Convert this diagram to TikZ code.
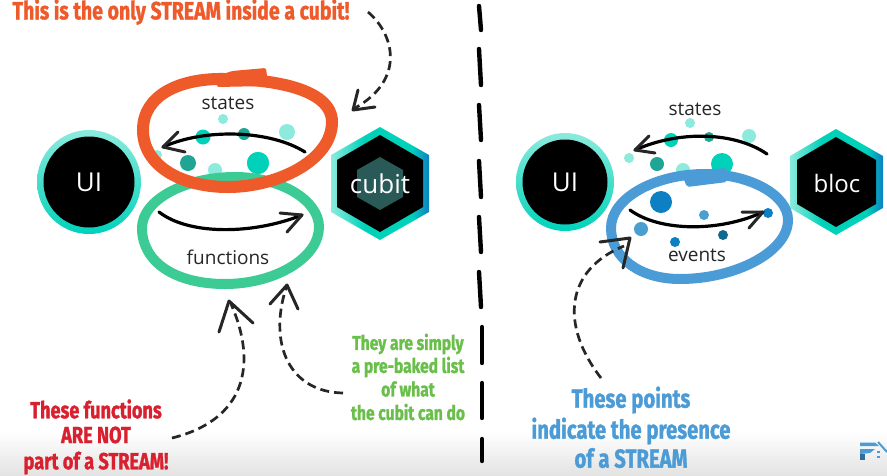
\documentclass[tikz,border=0pt]{standalone}
\usepackage{fontspec}
\usetikzlibrary{shapes.geometric}
\setmainfont{Open Sans}
\newfontfamily\disp[FakeStretch=0.78,BoldFeatures={FakeBold=1.2}]{Fira Sans}
\definecolor{orangeR}{HTML}{EF5A2B}
\definecolor{greenR}{HTML}{3CCB95}
\definecolor{blueR}{HTML}{4A9BD6}
\definecolor{redT}{HTML}{D9202F}
\definecolor{greenT}{HTML}{6ABF4B}
\definecolor{tealL}{HTML}{8CEBDD}
\definecolor{teal1}{HTML}{00D2BA}
\definecolor{tealD}{HTML}{1FA593}
\definecolor{blue1}{HTML}{0D80C4}
\definecolor{blue2}{HTML}{4A9FD0}
\definecolor{blue3}{HTML}{0F6A8F}
\definecolor{hexcore}{HTML}{2A5A57}
\pgfdeclarehorizontalshading{hexshade}{100bp}{
  color(0bp)=(tealL); color(25bp)=(tealL); color(42bp)=(teal1);
  color(66bp)=(teal1); color(75bp)=(blue1); color(100bp)=(blue1)}
\tikzset{
  x=1pt,y=-1pt,
  curve/.style={line width=3.2pt,line cap=round,line join=round,black},
  dashcurve/.style={line width=2.7pt,dash pattern=on 9pt off 5pt,black!85},
  headline/.style={line width=3pt,line cap=round,line join=round,black!85},
  ringnode/.style={circle,inner sep=0pt,shading angle=135,top color=tealL,bottom color=teal1},
  corenode/.style={circle,fill=black,text=white,inner sep=0pt,font=\fontsize{26}{28}\selectfont},
  hexlabel/.style={text=white,font=\fontsize{26}{28}\selectfont,inner sep=0pt},
  lab/.style={text=black!85,font=\fontsize{19}{21}\selectfont,inner sep=0pt},
  disptext/.style={align=center,inner sep=0pt,font=\disp\bfseries},
  dashbar/.style={line width=4.4pt,line cap=round,black},
  titletext/.style={disptext,text=orangeR,font=\disp\bfseries\fontsize{25}{28}\selectfont},
  redtext/.style={disptext,text=redT,font=\disp\bfseries\fontsize{23.3}{28}\selectfont},
  greentext/.style={disptext,text=greenT,font=\disp\bfseries\fontsize{20}{22}\selectfont},
  bluetext/.style={disptext,text=blueR,font=\disp\bfseries\fontsize{26}{28}\selectfont},
}
\begin{document}
\begin{tikzpicture}
\useasboundingbox (0,0) rectangle (887,475);
\fill[white] (0,0) rectangle (887,475);
\shade[top color=white,bottom color=black!11] (0,432) rectangle (887,475);

% divider
\foreach \a/\b in {6/30,49/85,105/140,161/197,217/252,272/307}
  \draw[dashbar] (479,\a) -- (481,\b);
\foreach \a/\b in {327/363,383/418,439/461}
  \draw[dashbar] (482,\a) -- (482,\b);

% LEFT PANEL -------------------------------------------------
\node[ringnode,minimum size=104pt] (uiL) at (89,182) {};
\node[corenode,minimum size=91pt] (uiLc) at (89,182) {UI};
\shade[shading=hexshade]
  (380,127) -- (429,155) -- (429,212) -- (380,240) -- (331,212) -- (331,155) -- cycle;
\fill[black] (380,135) -- (423,160) -- (423,207) -- (380,232) -- (337,207) -- (337,160) -- cycle;
\fill[hexcore] (380,157) -- (403,170) -- (403,197) -- (380,210) -- (357,197) -- (357,170) -- cycle;
\node[hexlabel] (cubit) at (380,184) {cubit};

% dots
\foreach \x/\y/\r/\c in {223/119/5/tealL,203/137/7.5/teal1,244/134/6/tealD,287/132/8/tealL,157/155/5/tealL,188/163/8/tealD,215/170/7/tealL,258/163/11/teal1}
  \fill[\c] (\x,\y) circle[radius=\r];

% green ring
\draw[greenR,line width=10pt] (142,228) .. controls (142,200) and (185,177) .. (235,177) .. controls (280,177) and (319,200) .. (319,227) .. controls (319,258) and (275,284) .. (225,284) .. controls (175,284) and (142,262) .. cycle;
\fill[teal1] (258,163) circle[radius=11];
% orange ring
\draw[orangeR,line width=12pt] (143,130) .. controls (143,95) and (180,78) .. (225,79) .. controls (270,79) and (332,88) .. (332,122) .. controls (332,160) and (278,187) .. (228,187) .. controls (180,187) and (143,165) .. cycle;
\fill[orangeR,rounded corners=2pt] (217,76) -- (232,71) -- (266,68) -- (267,76) -- (267,86) -- (217,87) -- cycle;

\node[lab] (statesL) at (228,103) {states};
\node[lab] (funcL) at (228,257) {functions};

\coordinate (sa) at (305,152); \coordinate (sb) at (163,147);
\draw[curve] (sa) .. controls (270,130) and (205,128) .. (sb);
\draw[headline] (178,132) -- (sb) -- (185,152);
\coordinate (fa) at (159,212); \coordinate (fb) at (302,215);
\draw[curve] (fa) .. controls (190,236) and (255,234) .. (fb);
\draw[headline] (280,213) -- (fb) -- (287,232);

% title and arrow
\node[titletext] (title) at (181,12) {This is the only STREAM inside a cubit!};
\coordinate (ta) at (368,12); \coordinate (tb) at (355,108);
\draw[dashcurve] (ta) .. controls (395,35) and (405,80) .. (tb);
\draw[headline] (358,90) -- (353,110) -- (375,107);

% red
\node[redtext] (rt1) at (96,409) {These functions};
\node[redtext] (rt2) at (96,435) {ARE NOT};
\node[redtext] (rt3) at (96,463) {part of a STREAM!};
\coordinate (ra) at (172,438); \coordinate (rb) at (231,304);
\draw[dashcurve] (ra) .. controls (245,420) and (258,365) .. (rb);
\draw[headline] (219,332) -- (229,301) -- (253,323);

% green text
\node[greentext] (gt1) at (408,344) {They are simply};
\node[greentext] (gt2) at (408,367) {a pre-baked list};
\node[greentext] (gt3) at (408,389) {of what};
\node[greentext] (gt4) at (408,412) {the cubit can do};
\coordinate (ga) at (343,393); \coordinate (gb) at (286,288);
\draw[dashcurve] (ga) .. controls (290,392) and (268,345) .. (gb);
\draw[headline] (270,304) -- (287,285) -- (298,309);

% RIGHT PANEL -------------------------------------------------
\node[ringnode,minimum size=98pt] (uiR) at (565,182) {};
\node[corenode,minimum size=85pt] (uiRc) at (565,182) {UI};
\shade[shading=hexshade]
  (836,129) -- (883,156) -- (883,208) -- (836,235) -- (790,208) -- (790,156) -- cycle;
\fill[black] (836,137) -- (876,160) -- (876,204) -- (836,227) -- (797,204) -- (797,160) -- cycle;
\node[hexlabel,font=\fontsize{24}{26}\selectfont] (bloc) at (837,183) {bloc};

\foreach \x/\y/\r/\c in {690/123/5/tealL,671/140/7/teal1,709/137/5/tealD,749/136/7/tealL,629/158/5/tealL,657/164/7/tealD,683/170/7/tealL,722/164/11/teal1}
  \fill[\c] (\x,\y) circle[radius=\r];

\draw[blueR,line width=10pt] (611,228) .. controls (611,198) and (655,174) .. (705,174) .. controls (750,174) and (788,195) .. (788,220) .. controls (788,252) and (735,279) .. (680,279) .. controls (640,279) and (611,258) .. cycle;
\fill[blueR,rounded corners=2pt] (682,175) -- (700,170) -- (727,168) -- (727,182) -- (687,187) -- cycle;

\foreach \x/\y/\r/\c in {661/202/11/blue1,704/215/5/blue2,768/213/5/blue1,641/229/7/blue2,675/242/5/blue1,723/235/5/blue3}
  \fill[\c] (\x,\y) circle[radius=\r];

\node[lab] (statesR) at (695,109) {states};
\node[lab] (eventsR) at (697,255) {events};

\coordinate (s2a) at (767,154); \coordinate (s2b) at (635,150);
\draw[curve] (s2a) .. controls (735,132) and (680,130) .. (s2b);
\draw[headline] (649,136) -- (s2b) -- (655,153);
\coordinate (e2a) at (630,210); \coordinate (e2b) at (763,212);
\draw[curve] (e2a) .. controls (660,232) and (720,232) .. (e2b);
\draw[headline] (742,212) -- (e2b) -- (749,228);

% blue text
\node[bluetext] (bt1) at (631,400) {These points};
\node[bluetext] (bt2) at (631,431) {indicate the presence};
\node[bluetext] (bt3) at (631,458) {of a STREAM};
\coordinate (ba) at (601,378); \coordinate (bb) at (624,246);
\draw[dashcurve] (ba) .. controls (560,325) and (565,270) .. (bb);
\draw[headline] (600,242) -- (630,238) -- (623,268);

% watermark
\fill[blueR] (860,442.5) -- (875,442.5) -- (879,446) -- (860,446) -- cycle;
\fill[blueR] (860,449) -- (875,449) -- (870,453) -- (860,454) -- cycle;
\fill[blueR!70!black] (860,454) rectangle (865,460);
\draw[blueR,line width=2pt] (878,442) -- (887,452);
\fill[blueR] (877,451) rectangle (880,453);
\fill[blueR] (877,456) rectangle (880,458);
\end{tikzpicture}
\end{document}
